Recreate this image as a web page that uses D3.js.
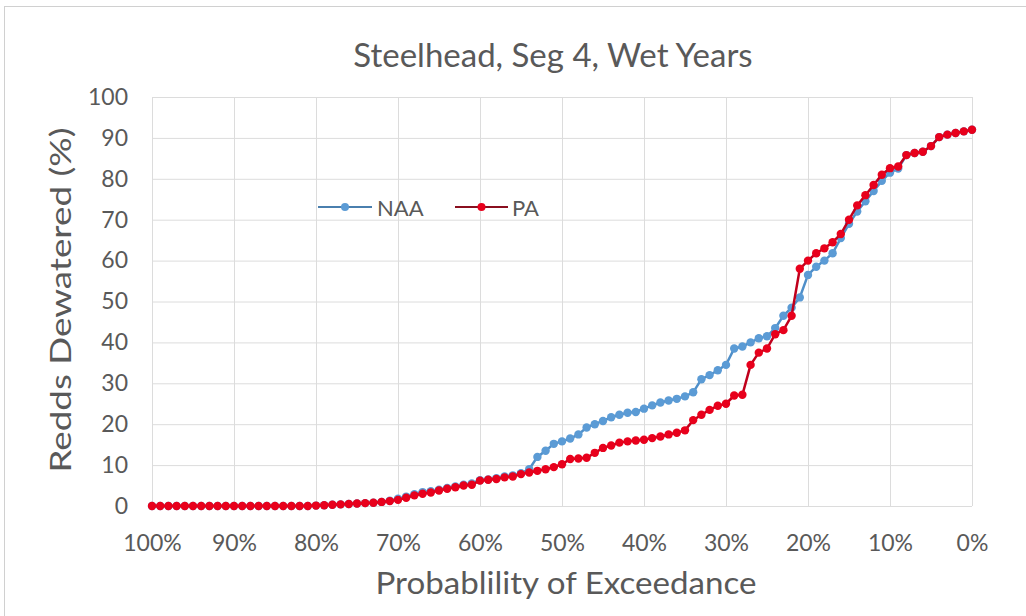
<!DOCTYPE html>
<html>
<head>
<meta charset="utf-8">
<script src="https://cdn.jsdelivr.net/npm/d3@7"></script>
<style>
  body { margin: 0; background: #fff; }
  text { font-family: Lato, "Open Sans", sans-serif; fill: #595959; }
</style>
</head>
<body>
<svg id="chart" width="1026" height="616"></svg>
<script>
// exceedance probability (%), 100 -> 0
let exceedance = [100,99,98,97,96,95,94,93,92,91,90,89,88,87,86,85,84,83,82,81,
  80,79,78,77,76,75,74,73,72,71,70,69,68,67,66,65,64,63,62,61,
  60,59,58,57,56,55,54,53,52,51,50,49,48,47,46,45,44,43,42,41,
  40,39,38,37,36,35,34,33,32,31,30,29,28,27,26,25,24,23,22,21,
  20,19,18,17,16,15,14,13,12,11,10,9,8,7,6,5,4,3,2,1,0];

let paValues = [0,0,0,0,0,0,0,0,0,0,0,0,0,0,0,0,0,0,0,0,
  0.1,0.2,0.3,0.4,0.5,0.6,0.7,0.8,1.0,1.2,1.5,2.0,2.6,3.0,3.3,3.8,4.2,4.6,5.0,5.2,
  6.2,6.4,6.6,7.0,7.2,7.8,8.2,8.6,9.0,9.5,10.2,11.5,11.6,11.8,13.0,14.2,14.8,15.5,15.8,16.0,
  16.2,16.6,17.0,17.5,17.9,18.5,21.0,22.3,23.5,24.5,25.0,27.0,27.2,34.5,37.5,38.5,42.0,43.0,46.5,58.0,
  60.0,61.8,63.0,64.5,66.5,70.0,73.5,76.0,78.5,81.0,82.6,83.0,85.8,86.3,86.6,88.0,90.2,90.8,91.2,91.6,92.0];

let naaValues = [0,0,0,0,0,0,0,0,0,0,0,0,0,0,0,0,0,0,0,0,
  0.1,0.2,0.3,0.4,0.5,0.6,0.7,0.8,1.0,1.3,1.8,2.3,2.9,3.4,3.6,4.0,4.4,4.8,5.2,5.5,
  6.3,6.5,6.8,7.2,7.5,8.0,9.0,12.0,13.5,15.2,15.8,16.5,17.5,19.2,20.0,20.8,21.7,22.3,22.8,23.0,
  23.8,24.6,25.3,25.8,26.2,26.8,27.8,31.0,32.0,33.2,34.5,38.5,39.0,40.0,41.0,41.5,43.5,46.5,48.5,51.0,
  56.5,58.5,60.0,61.8,65.5,69.0,72.0,74.5,77.0,79.5,81.5,82.5,85.8,86.3,86.6,88.0,90.2,90.8,91.2,91.6,92.0];

let xTicks = [100,90,80,70,60,50,40,30,20,10,0];
let yTicks = [0,10,20,30,40,50,60,70,80,90,100];

let series = [
  { name: "NAA", values: naaValues, line: "#4f8fc9", marker: "#5b9bd5", legendLine: "#4a7fae" },
  { name: "PA", values: paValues, line: "#c0001c", marker: "#e8001c", legendLine: "#8a0f1f" }
];

let svg = d3.select("#chart");

let x = d3.scaleLinear().domain([100, 0]).range([152, 972]);
let y = d3.scaleLinear().domain([0, 100]).range([506, 97]);

// outer frame
svg.append("rect")
  .attr("x", 4.5).attr("y", 6.5)
  .attr("width", 1030).attr("height", 620)
  .attr("fill", "#fff")
  .attr("stroke", "#d0d0d0");

// gridlines
svg.append("g")
  .selectAll("line")
  .data(yTicks)
  .join("line")
  .attr("x1", x(100)).attr("x2", x(0))
  .attr("y1", d => y(d) + 0.5).attr("y2", d => y(d) + 0.5)
  .attr("stroke", "#dcdcdc");

svg.append("g")
  .selectAll("line")
  .data(xTicks)
  .join("line")
  .attr("x1", d => x(d) + 0.5).attr("x2", d => x(d) + 0.5)
  .attr("y1", y(100)).attr("y2", y(0))
  .attr("stroke", "#dcdcdc");

// axes (labels only)
let xAxis = svg.append("g")
  .attr("transform", `translate(0,${y(0)})`)
  .call(d3.axisBottom(x).tickValues(xTicks).tickFormat(d => d + "%").tickSize(0).tickPadding(29));
let yAxis = svg.append("g")
  .attr("transform", `translate(${x(100)},0)`)
  .call(d3.axisLeft(y).tickValues(yTicks).tickSize(0).tickPadding(24));
[xAxis, yAxis].forEach(a => {
  a.select(".domain").remove();
  a.selectAll("text")
    .style("font-family", "Lato, 'Open Sans', sans-serif")
    .style("font-size", "23px")
    .attr("fill", "#595959");
});

// lines and markers
let line = d3.line()
  .x((d, i) => x(exceedance[i]))
  .y(d => y(d));

series.forEach(s => {
  svg.append("path")
    .datum(s.values)
    .attr("d", line)
    .attr("fill", "none")
    .attr("stroke", s.line)
    .attr("stroke-width", 2.5);

  svg.append("g")
    .selectAll("circle")
    .data(s.values)
    .join("circle")
    .attr("cx", (d, i) => x(exceedance[i]))
    .attr("cy", d => y(d))
    .attr("r", 4.2)
    .attr("fill", s.marker);
});

// legend
let legend = svg.append("g");
let legendPos = [{ x1: 318, x2: 372, tx: 377 }, { x1: 455, x2: 508, tx: 512 }];
series.forEach((s, i) => {
  let p = legendPos[i];
  legend.append("line")
    .attr("x1", p.x1).attr("x2", p.x2)
    .attr("y1", 207).attr("y2", 207)
    .attr("stroke", s.legendLine)
    .attr("stroke-width", 2);
  legend.append("circle")
    .attr("cx", (p.x1 + p.x2) / 2).attr("cy", 207)
    .attr("r", 4)
    .attr("fill", s.marker);
  legend.append("text")
    .attr("x", p.tx).attr("y", 208)
    .attr("dy", "0.35em")
    .style("font-size", "22px")
    .text(s.name);
});

// title and axis titles
svg.append("text")
  .attr("x", 553).attr("y", 55)
  .attr("dy", "0.35em")
  .attr("text-anchor", "middle")
  .style("font-size", "33px")
  .text("Steelhead, Seg 4, Wet Years");

svg.append("text")
  .attr("x", 566).attr("y", 583)
  .attr("dy", "0.35em")
  .attr("text-anchor", "middle")
  .attr("textLength", 381)
  .attr("lengthAdjust", "spacingAndGlyphs")
  .style("font-size", "31px")
  .text("Probablility of Exceedance");

svg.append("text")
  .attr("transform", "translate(61,300) rotate(-90)")
  .attr("dy", "0.35em")
  .attr("text-anchor", "middle")
  .attr("textLength", 345)
  .attr("lengthAdjust", "spacingAndGlyphs")
  .style("font-size", "28px")
  .text("Redds Dewatered (%)");
</script>
</body>
</html>
